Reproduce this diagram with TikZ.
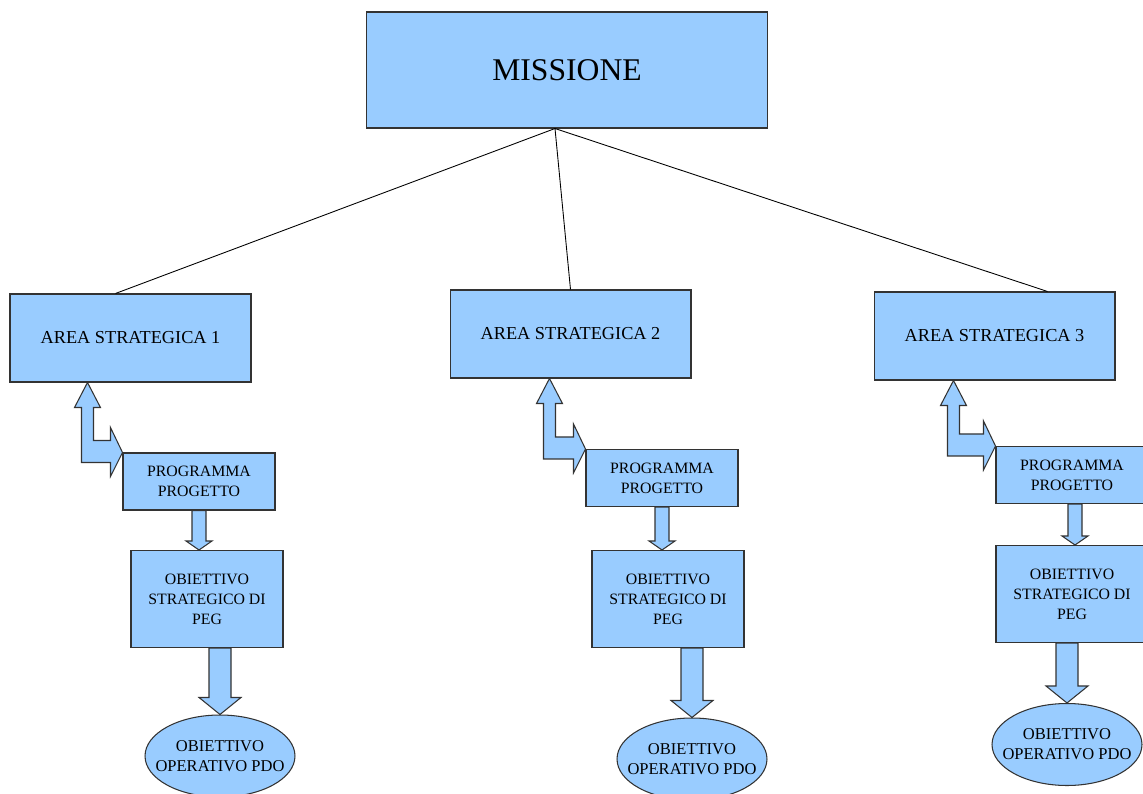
\documentclass[tikz,border=0pt]{standalone}
\usepackage{fontspec}
\setmainfont{Liberation Serif}
\usetikzlibrary{calc,shapes.geometric}

\definecolor{azzurro}{HTML}{99CCFF}
\definecolor{bordo}{HTML}{333333}

\tikzset{
  scatola/.style={draw=bordo, fill=azzurro, line width=0.6pt, inner sep=0pt, align=center, text=black},
  area/.style={scatola, minimum width=4.82cm, minimum height=1.76cm, font=\fontsize{10.4}{12.5}\selectfont},
  programma/.style={scatola, minimum width=3.04cm, minimum height=1.14cm, font=\fontsize{9}{11.3}\selectfont},
  obiettivo/.style={scatola, minimum width=3.04cm, minimum height=1.94cm, font=\fontsize{9}{11.3}\selectfont},
  operativo/.style={scatola, ellipse, minimum width=3.0cm, minimum height=1.64cm},
  testopdo/.style={align=center, text=black, inner sep=0pt, font=\fontsize{9.4}{11.5}\selectfont},
  freccia/.style={draw=bordo, fill=azzurro, line width=0.6pt, line join=miter},
  ramo/.style={draw=black, line width=0.5pt}
}

% freccia piena verso il basso: #1 inizio, #2 punta, #3 mezzo fusto, #4 mezza testa, #5 testa
\newcommand{\frecciagiu}[5]{%
  \filldraw[freccia] ($(#1)+(-#3,0)$) -- ($(#1)+(#3,0)$) -- ($(#2)+(#3,-#5)$) -- ($(#2)+(#4,-#5)$)
    -- (#2) -- ($(#2)+(-#4,-#5)$) -- ($(#2)+(-#3,-#5)$) -- cycle;
}

% freccia doppia a gomito: #1 punta in alto, #2 punta a destra
\newcommand{\frecciadoppia}[2]{%
  \filldraw[freccia] (#1) -- ($(#1)+(13,25)$) -- ($(#1)+(6,25)$) -- ($(#1|-#2)+(6,-12)$)
    -- ($(#2)+(-12,-12)$) -- ($(#2)+(-12,-25)$) -- (#2) -- ($(#2)+(-12,24)$) -- ($(#2)+(-12,10)$)
    -- ($(#1|-#2)+(-6,10)$) -- ($(#1)+(-6,25)$) -- ($(#1)+(-13,25)$) -- cycle;
}

\begin{document}
\begin{tikzpicture}[x=0.02cm, y=-0.02cm]
    \useasboundingbox (0,0) rectangle (1143,794);

    % Missione e aree strategiche
    \node[scatola, minimum width=8.04cm, minimum height=2.32cm, font=\fontsize{18}{21}\selectfont] (mis) at (567,70) {MISSIONE};
    \node[area] (a1) at (130.5,338) {AREA STRATEGICA 1};
    \node[area] (a2) at (570.5,334) {AREA STRATEGICA 2};
    \node[area] (a3) at (994.5,336) {AREA STRATEGICA 3};

    \coordinate (hub) at ($(mis.south)+(-12,0)$);
    \draw[ramo] (hub) -- ($(a1.north)+(-15,0)$);
    \draw[ramo] (hub) -- (a2.north);
    \draw[ramo] (hub) -- ($(a3.north)+(53,0)$);

    % Programmi / progetti
    \node[programma] (p1) at (199,481.5) {PROGRAMMA\\PROGETTO};
    \node[programma] (p2) at (662,478) {PROGRAMMA\\PROGETTO};
    \node[programma] (p3) at (1072,475) {PROGRAMMA\\PROGETTO};

    % Obiettivi strategici di PEG
    \node[obiettivo] (o1) at (207,599) {OBIETTIVO\\STRATEGICO DI\\PEG};
    \node[obiettivo] (o2) at (668,599) {OBIETTIVO\\STRATEGICO DI\\PEG};
    \node[obiettivo] (o3) at (1072,594) {OBIETTIVO\\STRATEGICO DI\\PEG};

    % Obiettivi operativi di PDO
    \node[operativo] (e1) at (220,756) {};
    \node[operativo] (e2) at (692,759) {};
    \node[operativo] (e3) at (1067,744.5) {};
    \node[testopdo] (t1) at (e1) {OBIETTIVO\\OPERATIVO PDO};
    \node[testopdo] (t2) at (e2) {OBIETTIVO\\OPERATIVO PDO};
    \node[testopdo] (t3) at (e3) {OBIETTIVO\\OPERATIVO PDO};

    % frecce a gomito tra area e programma
    \coordinate (u1) at ($(a1.south -| p1.west)+(-35,0)$);
    \coordinate (u2) at ($(a2.south -| p2.west)+(-36,0)$);
    \coordinate (u3) at ($(a3.south -| p3.west)+(-42,0)$);
    \frecciadoppia{u1}{p1.north west}
    \frecciadoppia{u2}{p2.north west}
    \frecciadoppia{u3}{p3.north west}

    % frecce verso il basso
    \coordinate (s1) at (p1.south |- o1.north);
    \coordinate (s2) at (p2.south |- o2.north);
    \coordinate (s3) at ($(p3.south |- o3.north)+(3,0)$);
    \frecciagiu{p1.south}{s1}{7}{13}{9}
    \frecciagiu{p2.south}{s2}{7}{13}{9}
    \frecciagiu{$(p3.south)+(3,0)$}{s3}{7}{13}{9}

    \coordinate (g1) at (o1.south -| e1.north);
    \coordinate (g2) at (o2.south -| e2.north);
    \coordinate (g3) at (o3.south -| e3.north);
    \frecciagiu{g1}{e1.north}{11}{21}{17}
    \frecciagiu{g2}{e2.north}{11}{21}{17}
    \frecciagiu{g3}{e3.north}{11}{21}{17}
\end{tikzpicture}
\end{document}
